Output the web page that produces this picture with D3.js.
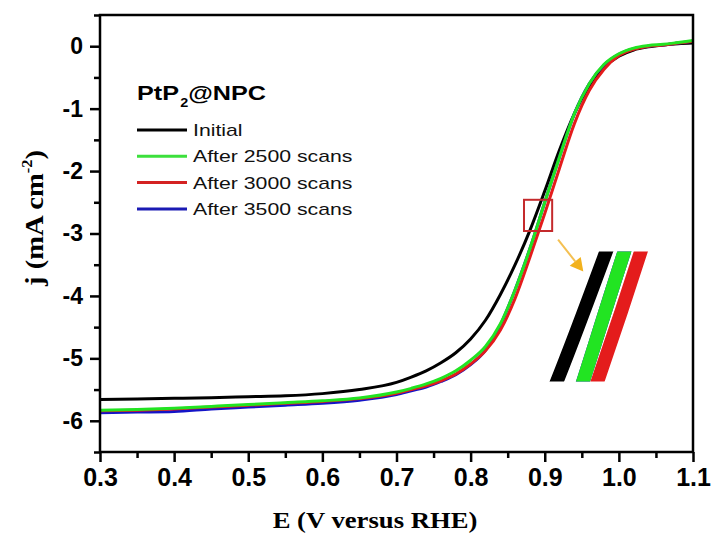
<!DOCTYPE html>
<html>
<head>
<meta charset="utf-8">
<script src="https://cdn.jsdelivr.net/npm/d3@7"></script>
<style>
  body { margin: 0; background: #fff; }
  svg { display: block; }
  .axis text { font-family: "Liberation Sans", Arial, sans-serif; font-weight: bold; fill: #000; }
</style>
</head>
<body>
<div id="chart"></div>
<script>
// potential (V vs RHE) and current density (mA cm-2)
const potential = [0.30, 0.35, 0.40, 0.45, 0.50, 0.55, 0.60, 0.65, 0.70, 0.72, 0.74, 0.76, 0.78, 0.80,
  0.82, 0.84, 0.86, 0.88, 0.90, 0.92, 0.94, 0.96, 0.98, 1.00, 1.02, 1.04, 1.06, 1.08, 1.10];
const jInitial = [-5.66, -5.65, -5.64, -5.63, -5.615, -5.60, -5.565, -5.50, -5.385, -5.30, -5.20, -5.07, -4.91, -4.69,
  -4.39, -3.98, -3.50, -2.95, -2.32, -1.66, -1.08, -0.64, -0.34, -0.16, -0.06, -0.01, 0.02, 0.04, 0.05];
const j2500 = [-5.83, -5.82, -5.80, -5.77, -5.74, -5.71, -5.68, -5.635, -5.54, -5.48, -5.41, -5.32, -5.20, -5.03,
  -4.81, -4.45, -3.90, -3.24, -2.50, -1.77, -1.08, -0.60, -0.29, -0.12, -0.03, 0.01, 0.03, 0.06, 0.09];
const j3000 = [-5.84, -5.83, -5.81, -5.78, -5.75, -5.72, -5.69, -5.645, -5.56, -5.50, -5.44, -5.36, -5.25, -5.09,
  -4.88, -4.55, -4.04, -3.38, -2.68, -1.95, -1.24, -0.71, -0.37, -0.15, -0.05, 0.00, 0.02, 0.05, 0.08];
const j3500 = [-5.87, -5.86, -5.85, -5.81, -5.78, -5.75, -5.72, -5.67, -5.58, -5.52, -5.46, -5.37, -5.26, -5.10,
  -4.87, -4.47, -3.90, -3.24, -2.50, -1.77, -1.08, -0.60, -0.30, -0.13, -0.04, 0.00, 0.02, 0.05, 0.08];

const seriesNames = ["Initial", "After 2500 scans", "After 3000 scans", "After 3500 scans"];
const seriesValues = [jInitial, j2500, j3000, j3500];
const seriesColors = ["#000000", "#22e422", "#e41c1c", "#1414c8"];
const legendColors = ["#000000", "#3ce03c", "#d42222", "#1a1ab4"];
const drawOrder = [0, 3, 2, 1];

const xTicks = [0.3, 0.4, 0.5, 0.6, 0.7, 0.8, 0.9, 1.0, 1.1];
const xMinor = [0.35, 0.45, 0.55, 0.65, 0.75, 0.85, 0.95, 1.05];
const yTicks = [-6, -5, -4, -3, -2, -1, 0];
const yMinor = [-6.5, -5.5, -4.5, -3.5, -2.5, -1.5, -0.5, 0.5];

// zoom box, arrow and magnified inset (data units)
const boxE = [0.872, 0.910], boxJ = [-2.46, -2.96];
const arrowE = [0.918, 0.952], arrowJ = [-3.10, -3.61];
const focusE = 0.893, focusJ = -2.70;
const insetE = 0.972, insetJ = -4.33;
const insetZoom = 4.5;

const width = 711, height = 536;
const margin = {top: 15, right: 18, bottom: 84, left: 100};

const svg = d3.select("#chart").append("svg")
  .attr("width", width)
  .attr("height", height);

const x = d3.scaleLinear().domain([0.3, 1.1]).range([margin.left, width - margin.right]);
const y = d3.scaleLinear().domain([-6.5, 0.5]).range([height - margin.bottom, margin.top]);

svg.append("clipPath").attr("id", "plotClip")
  .append("rect")
  .attr("x", x(0.3)).attr("y", y(0.5))
  .attr("width", x(1.1) - x(0.3)).attr("height", y(-6.5) - y(0.5));

const line = d3.line()
  .x((d, i) => x(potential[i]))
  .y(d => y(d))
  .curve(d3.curveMonotoneX);

const curves = svg.append("g").attr("clip-path", "url(#plotClip)");
drawOrder.forEach(k => {
  curves.append("path")
    .attr("d", line(seriesValues[k]))
    .attr("fill", "none")
    .attr("stroke", seriesColors[k])
    .attr("stroke-width", 3);
});

// axes
const xAxis = svg.append("g").attr("class", "axis")
  .attr("transform", `translate(0,${y(-6.5)})`)
  .call(d3.axisBottom(x).tickValues(xTicks).tickSize(10).tickPadding(6).tickFormat(d3.format(".1f")));
svg.append("g").attr("class", "axis")
  .attr("transform", `translate(0,${y(-6.5)})`)
  .call(d3.axisBottom(x).tickValues(xMinor).tickSize(6).tickFormat(""));
const yAxis = svg.append("g").attr("class", "axis")
  .attr("transform", `translate(${x(0.3)},0)`)
  .call(d3.axisLeft(y).tickValues(yTicks).tickSize(10).tickPadding(7).tickFormat(d => String(d)));
svg.append("g").attr("class", "axis")
  .attr("transform", `translate(${x(0.3)},0)`)
  .call(d3.axisLeft(y).tickValues(yMinor).tickSize(6).tickFormat(""));

svg.selectAll(".axis .domain").remove();
svg.selectAll(".axis .tick line").attr("stroke", "#000").attr("stroke-width", 2.5);
xAxis.selectAll("text").attr("font-size", 25);
yAxis.selectAll("text").attr("font-size", 23);

svg.append("rect")
  .attr("x", x(0.3)).attr("y", y(0.5))
  .attr("width", x(1.1) - x(0.3)).attr("height", y(-6.5) - y(0.5))
  .attr("fill", "none")
  .attr("stroke", "#000")
  .attr("stroke-width", 2.5);

// axis titles
svg.append("text")
  .attr("transform", "translate(375,528) scale(1.16,1)")
  .attr("text-anchor", "middle")
  .attr("font-family", "'Liberation Serif', 'Times New Roman', serif")
  .attr("font-weight", "bold")
  .attr("font-size", 23)
  .text("E (V versus RHE)");

const yTitle = svg.append("text")
  .attr("transform", "translate(43,218) rotate(-90) scale(1.1,1)")
  .attr("text-anchor", "middle")
  .attr("font-family", "'Liberation Serif', 'Times New Roman', serif")
  .attr("font-weight", "bold")
  .attr("font-size", 26);
yTitle.append("tspan").text("j (mA cm");
yTitle.append("tspan").attr("font-size", 15).attr("dy", -11).text("-2");
yTitle.append("tspan").attr("dy", 11).text(")");

// legend
const legendTitle = svg.append("text")
  .attr("transform", "translate(137,100) scale(1.2,1)")
  .attr("font-family", "'Liberation Sans', Arial, sans-serif")
  .attr("font-weight", "bold")
  .attr("font-size", 21);
legendTitle.append("tspan").text("PtP");
legendTitle.append("tspan").attr("font-size", 12).attr("dy", 7).attr("dx", 1).text("2");
legendTitle.append("tspan").attr("dy", -7).text("@NPC");

const legend = svg.selectAll(".legend-item")
  .data(seriesNames)
  .enter().append("g")
  .attr("class", "legend-item")
  .attr("transform", (d, i) => `translate(137,${130 + i * 26.3})`);

legend.append("line")
  .attr("x1", 0).attr("x2", 50)
  .attr("stroke", (d, i) => legendColors[i])
  .attr("stroke-width", 3);

legend.append("text")
  .attr("transform", "translate(56,6) scale(1.25,1)")
  .attr("font-family", "'Liberation Sans', Arial, sans-serif")
  .attr("font-size", 17)
  .attr("fill", "#111")
  .text(d => d);

// zoom box
svg.append("rect")
  .attr("x", x(boxE[0])).attr("y", y(boxJ[0]))
  .attr("width", x(boxE[1]) - x(boxE[0]))
  .attr("height", y(boxJ[1]) - y(boxJ[0]))
  .attr("fill", "none")
  .attr("stroke", "#c42a2c")
  .attr("stroke-width", 2);

// arrow
const ax0 = x(arrowE[0]), ay0 = y(arrowJ[0]), ax1 = x(arrowE[1]), ay1 = y(arrowJ[1]);
const ang = Math.atan2(ay1 - ay0, ax1 - ax0);
const headLen = 13, headHalf = 7;
const bx = ax1 - headLen * Math.cos(ang), by = ay1 - headLen * Math.sin(ang);
svg.append("line")
  .attr("x1", ax0).attr("y1", ay0).attr("x2", bx).attr("y2", by)
  .attr("stroke", "#f4c052")
  .attr("stroke-width", 2);
svg.append("polygon")
  .attr("points", [
    [ax1, ay1],
    [bx + headHalf * Math.sin(ang), by - headHalf * Math.cos(ang)],
    [bx - headHalf * Math.sin(ang), by + headHalf * Math.cos(ang)]
  ].map(p => p.join(",")).join(" "))
  .attr("fill", "#f2b21e");

// magnified inset
const icx = x(insetE), icy = y(insetJ);
svg.append("clipPath").attr("id", "insetClip")
  .append("rect")
  .attr("x", icx - 60).attr("y", icy - 65)
  .attr("width", 120).attr("height", 130);

const inset = svg.append("g").attr("clip-path", "url(#insetClip)")
  .append("g")
  .attr("transform", `translate(${icx},${icy}) scale(${insetZoom}) translate(${-x(focusE)},${-y(focusJ)})`);
drawOrder.forEach(k => {
  inset.append("path")
    .attr("d", line(seriesValues[k]))
    .attr("fill", "none")
    .attr("stroke", seriesColors[k])
    .attr("stroke-width", 3);
});
</script>
</body>
</html>
